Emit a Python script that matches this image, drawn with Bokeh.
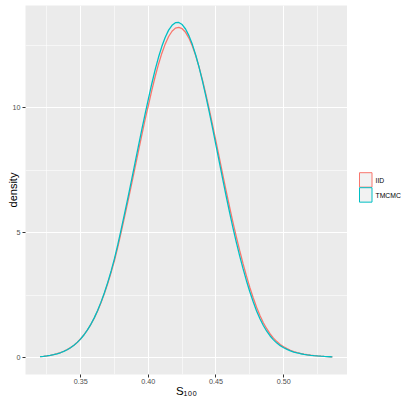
from bokeh.plotting import figure
from bokeh.models import FixedTicker, Range1d
from bokeh.layouts import row
from bokeh.core.properties import value
from bokeh.embed import file_html
from bokeh.resources import INLINE

# ---- data ----
x_grid = [0.3200, 0.3225, 0.3250, 0.3275, 0.3300, 0.3325, 0.3350, 0.3375, 0.3400, 0.3425,
          0.3450, 0.3475, 0.3500, 0.3525, 0.3550, 0.3575, 0.3600, 0.3625, 0.3650, 0.3675,
          0.3700, 0.3725, 0.3750, 0.3775, 0.3800, 0.3825, 0.3850, 0.3875, 0.3900, 0.3925,
          0.3950, 0.3975, 0.4000, 0.4025, 0.4050, 0.4075, 0.4100, 0.4125, 0.4150, 0.4175,
          0.4200, 0.4225, 0.4250, 0.4275, 0.4300, 0.4325, 0.4350, 0.4375, 0.4400, 0.4425,
          0.4450, 0.4475, 0.4500, 0.4525, 0.4550, 0.4575, 0.4600, 0.4625, 0.4650, 0.4675,
          0.4700, 0.4725, 0.4750, 0.4775, 0.4800, 0.4825, 0.4850, 0.4875, 0.4900, 0.4925,
          0.4950, 0.4975, 0.5000, 0.5025, 0.5050, 0.5075, 0.5100, 0.5125, 0.5150, 0.5175,
          0.5200, 0.5225, 0.5250, 0.5275, 0.5300, 0.5325, 0.5350, 0.5360]

iid_density = [0.043, 0.057, 0.074, 0.097, 0.125, 0.160, 0.204, 0.259, 0.325, 0.406,
               0.503, 0.620, 0.758, 0.921, 1.111, 1.331, 1.584, 1.872, 2.197, 2.563,
               2.966, 3.411, 3.894, 4.440, 5.040, 5.650, 6.270, 6.910, 7.560, 8.210,
               8.860, 9.500, 10.082, 10.678, 11.232, 11.734, 12.174, 12.545, 12.840, 13.051,
               13.175, 13.209, 13.153, 13.008, 12.777, 12.463, 12.075, 11.619, 11.104, 10.539,
               9.934, 9.300, 8.648, 7.986, 7.324, 6.671, 6.036, 5.423, 4.839, 4.289,
               3.760, 3.270, 2.810, 2.400, 2.020, 1.690, 1.400, 1.160, 0.950, 0.785,
               0.645, 0.532, 0.440, 0.365, 0.300, 0.247, 0.205, 0.170, 0.143, 0.120,
               0.101, 0.086, 0.073, 0.062, 0.053, 0.046, 0.040, 0.037]

tmcmc_density = [0.045, 0.055, 0.071, 0.093, 0.120, 0.155, 0.199, 0.252, 0.319, 0.399,
                 0.497, 0.614, 0.754, 0.919, 1.112, 1.336, 1.594, 1.890, 2.223, 2.596,
                 3.013, 3.469, 3.971, 4.540, 5.150, 5.780, 6.420, 7.080, 7.750, 8.420,
                 9.080, 9.720, 10.337, 10.943, 11.505, 12.009, 12.448, 12.812, 13.095, 13.290,
                 13.393, 13.403, 13.318, 13.141, 12.876, 12.527, 12.102, 11.610, 11.059, 10.461,
                 9.827, 9.166, 8.489, 7.806, 7.129, 6.465, 5.820, 5.204, 4.621, 4.074,
                 3.560, 3.080, 2.640, 2.240, 1.870, 1.560, 1.290, 1.060, 0.870, 0.715,
                 0.585, 0.482, 0.400, 0.332, 0.275, 0.228, 0.190, 0.160, 0.135, 0.114,
                 0.097, 0.083, 0.071, 0.061, 0.053, 0.046, 0.040, 0.038]

series_names = ["IID", "TMCMC"]
series_colors = ["#F8766D", "#00BFC4"]

x_ticks = [0.35, 0.40, 0.45, 0.50]
x_tick_labels = ["0.35", "0.40", "0.45", "0.50"]
x_minor_ticks = [0.325, 0.375, 0.425, 0.475, 0.525]
y_ticks = [0, 5, 10]
y_tick_labels = ["0", "5", "10"]
y_minor_ticks = [2.5, 7.5, 12.5]

x_title = "S\u2081\u2080\u2080"
y_title = "density"

FONT = "Liberation Sans"

# ---------------- main panel ----------------
p = figure(width=347, height=401,
           x_range=Range1d(0.3092, 0.5472), y_range=Range1d(-0.67, 14.08),
           output_backend="svg", toolbar_location=None,
           min_border_left=25, min_border_right=0, min_border_top=5, min_border_bottom=27)

p.background_fill_color = "#EBEBEB"
p.border_fill_color = "white"
p.outline_line_color = None

p.xaxis.ticker = FixedTicker(ticks=x_ticks, minor_ticks=x_minor_ticks)
p.yaxis.ticker = FixedTicker(ticks=y_ticks, minor_ticks=y_minor_ticks)
p.xaxis.major_label_overrides = dict(zip(x_ticks, x_tick_labels))
p.yaxis.major_label_overrides = dict(zip(y_ticks, y_tick_labels))

for ax in p.axis:
    ax.axis_line_color = None
    ax.major_tick_line_color = "#333333"
    ax.major_tick_line_width = 1
    ax.major_tick_out = 3
    ax.major_tick_in = 0
    ax.minor_tick_line_color = None
    ax.major_label_text_color = "#4D4D4D"
    ax.major_label_text_font = FONT
    ax.major_label_text_font_size = "7.2px"
    ax.axis_label_text_font = FONT
    ax.axis_label_text_font_style = "normal"
    ax.axis_label_text_color = "black"

p.xaxis.major_label_standoff = 0
p.xaxis.axis_label = x_title
p.xaxis.axis_label_text_font_size = "11.5px"
p.xaxis.axis_label_standoff = -2

p.yaxis.major_label_standoff = 1
p.yaxis.axis_label = y_title
p.yaxis.axis_label_text_font_size = "11px"
p.yaxis.axis_label_standoff = -9

for g in (p.xgrid, p.ygrid):
    g.grid_line_color = "white"
    g.grid_line_width = 1.1
    g.minor_grid_line_color = "white"
    g.minor_grid_line_width = 0.55

for ys, col in zip([iid_density, tmcmc_density], series_colors):
    p.line(x_grid, ys, line_color=col, line_width=1.3)

# ---------------- legend strip (ggplot-style keys) ----------------
LEG_W = 54
key_left, key_right = 12, 24.5
key_top0, key_h = 181.7, 16.3
lf = figure(width=LEG_W, height=401, x_range=Range1d(0, LEG_W), y_range=Range1d(401, 0),
            output_backend="svg", toolbar_location=None, min_border=0,
            x_axis_type=None, y_axis_type=None)
lf.outline_line_color = None
lf.background_fill_color = "white"
lf.border_fill_color = "white"
lf.grid.visible = False

n = len(series_names)
tops = [key_top0 + i * key_h for i in range(n)]
lf.quad(left=[key_left] * n, right=[key_right] * n, top=tops, bottom=[t + key_h - 0.6 for t in tops],
        fill_color="#F2F2F2", line_color=series_colors, line_width=1)
lf.text(x=[key_right + 3.5] * n, y=[t + key_h / 2 for t in tops], text=series_names,
        text_baseline="middle", text_align="left", text_font=value(FONT),
        text_font_size="6.8px", text_color="black")

layout = row(p, lf, spacing=0)

open("out.html", "w").write(file_html(layout, INLINE))
